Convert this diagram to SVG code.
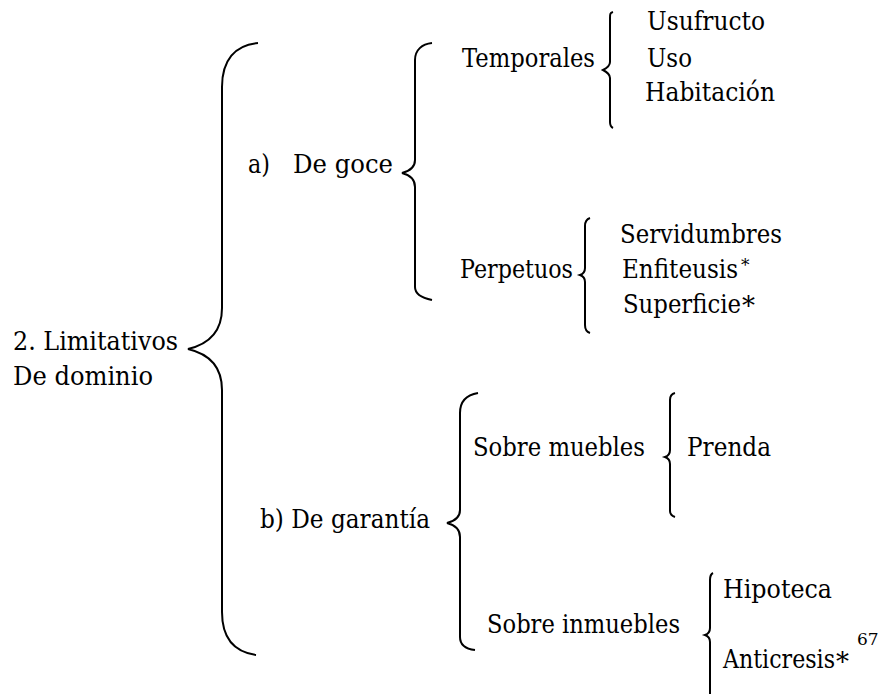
<svg xmlns="http://www.w3.org/2000/svg" width="882" height="694" viewBox="0 0 882 694">
<style>
text{font-family:'DejaVu Serif',serif;font-size:26px;fill:#000}
.br{fill:none;stroke:#000;stroke-width:2}
.sup{font-size:17px}
</style>
<rect width="882" height="694" fill="#fff"/>
<g id="connectors">
<path class="br" d="M258,43 C235,45 222,60 222,87 L222,308 C222,335 205,345 188,349 C205,353 222,363 222,390 L222,612 C222,640 235,652 256,655"/>
<path class="br" d="M432,43 C422,44 415,50 415,60 L415,160 C415,167 410,171 402,173 C410,175 415,180 415,187 L415,287 C415,294 422,298 432,300"/>
<path class="br" d="M613,12 C610,13 610,14 610,18 L610,62 C610,66 607,68 603,70 C607,72 610,74 610,78 L610,122 C610,126 611,127 613,128"/>
<path class="br" d="M590,218 C587,219 585,221 585,226 L585,268 C585,272 583,274 580,275 C583,276 585,278 585,282 L585,325 C585,329 587,332 590,333"/>
<path class="br" d="M478,393 C466,395 460,402 460,413 L460,510 C460,517 455,521 447,523 C455,525 460,529 460,537 L460,637 C460,645 466,649 475,650"/>
<path class="br" d="M675,393 C671,394 670,396 670,400 L670,450 C670,454 668,456 665,457 C668,458 670,460 670,464 L670,511 C670,514 672,516 675,517"/>
<path class="br" d="M713,573 C711,574 710,576 710,580 L710,628 C710,632 708,634 705,635 C708,636 710,638 710,642 L710,694"/>
</g>
<g id="root"><text x="13" y="350" textLength="165" lengthAdjust="spacingAndGlyphs">2. Limitativos</text><text x="13" y="385" textLength="140" lengthAdjust="spacingAndGlyphs">De dominio</text></g>
<g id="goce"><text x="248" y="173" textLength="22" lengthAdjust="spacingAndGlyphs">a)</text><text x="293" y="173" textLength="100" lengthAdjust="spacingAndGlyphs">De goce</text></g>
<g id="temporales"><text x="462" y="67" textLength="133" lengthAdjust="spacingAndGlyphs">Temporales</text></g>
<g id="usufructo"><text x="647" y="30" textLength="118" lengthAdjust="spacingAndGlyphs">Usufructo</text></g>
<g id="uso"><text x="647" y="67" textLength="45" lengthAdjust="spacingAndGlyphs">Uso</text></g>
<g id="habitacion"><text x="645" y="101" textLength="130" lengthAdjust="spacingAndGlyphs">Habitación</text></g>
<g id="perpetuos"><text x="460" y="278" textLength="113" lengthAdjust="spacingAndGlyphs">Perpetuos</text></g>
<g id="servidumbres"><text x="620" y="243" textLength="162" lengthAdjust="spacingAndGlyphs">Servidumbres</text></g>
<g id="enfiteusis"><text x="622" y="278"><tspan textLength="116" lengthAdjust="spacingAndGlyphs">Enfiteusis</tspan><tspan class="sup" x="741" y="271">*</tspan></text></g>
<g id="superficie"><text x="623" y="313"><tspan textLength="118" lengthAdjust="spacingAndGlyphs">Superficie</tspan><tspan x="742" y="315">*</tspan></text></g>
<g id="garantia"><text x="260" y="528" textLength="170" lengthAdjust="spacingAndGlyphs">b) De garantía</text></g>
<g id="muebles"><text x="473" y="456" textLength="172" lengthAdjust="spacingAndGlyphs">Sobre muebles</text></g>
<g id="prenda"><text x="687" y="456" textLength="84" lengthAdjust="spacingAndGlyphs">Prenda</text></g>
<g id="inmuebles"><text x="487" y="633" textLength="193" lengthAdjust="spacingAndGlyphs">Sobre inmuebles</text></g>
<g id="hipoteca"><text x="723" y="598" textLength="109" lengthAdjust="spacingAndGlyphs">Hipoteca</text></g>
<g id="anticresis"><text x="723" y="668"><tspan textLength="112" lengthAdjust="spacingAndGlyphs">Anticresis</tspan><tspan x="836" y="671">*</tspan><tspan class="sup" x="857" y="645">67</tspan></text></g>
</svg>
